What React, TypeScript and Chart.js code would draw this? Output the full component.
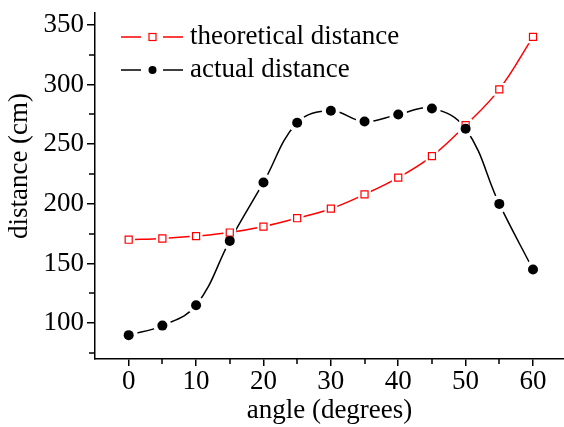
import React, { useEffect, useRef } from "react";
import { Chart, registerables } from "chart.js";

Chart.register(...registerables);

const angles = [0, 5, 10, 15, 20, 25, 30, 35, 40, 45, 50, 55, 60];
const theoretical = [170, 171, 173, 176, 181, 188, 196, 208, 222, 240, 266, 296, 340];
const actual = [90, 98, 115, 169, 218, 268, 278, 269, 275, 280, 263, 200, 145];
const xMajorTicks = [0, 10, 20, 30, 40, 50, 60];
const xMinorTicks = [5, 15, 25, 35, 45, 55];
const yMajorTicks = [100, 150, 200, 250, 300, 350];
const yMinorTicks = [75, 125, 175, 225, 275, 325];
const seriesNames = ["theoretical distance", "actual distance"];
const xTitle = "angle (degrees)";
const yTitle = "distance (cm)";

const RED = "#ff0000";
const BLACK = "#000000";
const FONT = "'Liberation Serif', 'Times New Roman', serif";

const pts = (ys: number[]) => angles.map((a, i) => ({ x: a, y: ys[i] }));

const minorTickPlugin = {
  id: "minorTicks",
  afterDraw(chart: any) {
    const { ctx, scales } = chart;
    const x = scales.x;
    const y = scales.y;
    ctx.save();
    ctx.strokeStyle = BLACK;
    ctx.lineWidth = 1.5;
    ctx.beginPath();
    for (const v of xMinorTicks) {
      const px = Math.round(x.getPixelForValue(v));
      ctx.moveTo(px, x.top);
      ctx.lineTo(px, x.top + 5);
    }
    for (const v of yMinorTicks) {
      const py = Math.round(y.getPixelForValue(v));
      ctx.moveTo(y.right, py);
      ctx.lineTo(y.right - 6, py);
    }
    ctx.stroke();
    ctx.restore();
  },
};

const yTitlePlugin = {
  id: "yTitle",
  afterDraw(chart: any) {
    const { ctx } = chart;
    ctx.save();
    ctx.translate(20, 166);
    ctx.rotate(-Math.PI / 2);
    ctx.fillStyle = BLACK;
    ctx.font = `27px ${FONT}`;
    ctx.textAlign = "center";
    ctx.textBaseline = "middle";
    ctx.fillText(yTitle, 0, 0);
    ctx.restore();
  },
};

const legendPlugin = {
  id: "customLegend",
  afterDraw(chart: any) {
    const { ctx } = chart;
    const rows = [
      { name: seriesNames[0], color: RED, style: "rect", y: 37 },
      { name: seriesNames[1], color: BLACK, style: "circle", y: 70 },
    ];
    ctx.save();
    for (const r of rows) {
      ctx.strokeStyle = r.color;
      ctx.lineWidth = 1.5;
      ctx.beginPath();
      ctx.moveTo(121, r.y);
      ctx.lineTo(141, r.y);
      ctx.moveTo(163, r.y);
      ctx.lineTo(183, r.y);
      ctx.stroke();
      if (r.style === "rect") {
        ctx.fillStyle = "#fff";
        ctx.lineWidth = 1.2;
        ctx.fillRect(149, r.y - 3.5, 7, 7);
        ctx.strokeRect(149, r.y - 3.5, 7, 7);
      } else {
        ctx.fillStyle = BLACK;
        ctx.beginPath();
        ctx.arc(152.5, r.y, 4, 0, Math.PI * 2);
        ctx.fill();
      }
      ctx.fillStyle = BLACK;
      ctx.font = `27px ${FONT}`;
      ctx.textBaseline = "middle";
      ctx.textAlign = "left";
      ctx.fillText(r.name, 190, r.y);
    }
    ctx.restore();
  },
};

export default function App() {
  const ref = useRef<HTMLCanvasElement | null>(null);

  useEffect(() => {
    if (!ref.current) return;
    const chart = new Chart(ref.current, {
      type: "line",
      data: {
        datasets: [
          { label: "theoLine", data: pts(theoretical), borderColor: RED, borderWidth: 1.5, pointRadius: 0, tension: 0.4, order: 6 },
          { label: "actLine", data: pts(actual), borderColor: BLACK, borderWidth: 1.5, pointRadius: 0, tension: 0.4, order: 5 },
          { label: "theoHalo", data: pts(theoretical), showLine: false, pointStyle: "rect", pointRadius: 9, pointBackgroundColor: "#fff", pointBorderWidth: 0, pointBorderColor: "#fff", order: 4 },
          { label: "actHalo", data: pts(actual), showLine: false, pointStyle: "circle", pointRadius: 9, pointBackgroundColor: "#fff", pointBorderWidth: 0, pointBorderColor: "#fff", order: 3 },
          { label: seriesNames[0], data: pts(theoretical), showLine: false, pointStyle: "rect", pointRadius: 5, pointBackgroundColor: "#fff", pointBorderColor: RED, pointBorderWidth: 1.2, order: 2 },
          { label: seriesNames[1], data: pts(actual), showLine: false, pointStyle: "circle", pointRadius: 5, pointBackgroundColor: BLACK, pointBorderColor: BLACK, pointBorderWidth: 0, order: 1 },
        ],
      },
      options: {
        animation: false,
        responsive: false,
        maintainAspectRatio: false,
        layout: { autoPadding: false, padding: { top: 13, right: 0, bottom: 0, left: 0 } },
        plugins: { legend: { display: false }, tooltip: { enabled: false } },
        scales: {
          x: {
            type: "linear",
            min: -5,
            max: 64.6,
            afterBuildTicks: (s: any) => {
              s.ticks = xMajorTicks.map((v) => ({ value: v }));
            },
            afterFit: (s: any) => {
              s.height = 68;
              s.paddingLeft = 0;
              s.paddingRight = 0;
            },
            border: { display: true, color: BLACK, width: 1.5 },
            grid: { display: true, drawOnChartArea: false, drawTicks: true, tickLength: 7, color: BLACK, lineWidth: 1.5 },
            ticks: { color: BLACK, font: { family: FONT, size: 27 }, padding: 0, maxRotation: 0, autoSkip: false },
            title: { display: true, text: xTitle, color: BLACK, font: { family: FONT, size: 27, lineHeight: 1.2 }, padding: { top: 0, bottom: 0 } },
          },
          y: {
            type: "linear",
            min: 70,
            max: 360,
            afterBuildTicks: (s: any) => {
              s.ticks = yMajorTicks.map((v) => ({ value: v }));
            },
            afterFit: (s: any) => {
              s.width = 95;
              s.paddingTop = 0;
              s.paddingBottom = 0;
            },
            border: { display: true, color: BLACK, width: 1.5 },
            grid: { display: true, drawOnChartArea: false, drawTicks: true, tickLength: 8, color: BLACK, lineWidth: 1.5 },
            ticks: { color: BLACK, font: { family: FONT, size: 27 }, padding: 3, autoSkip: false },
            title: { display: false },
          },
        },
      },
      plugins: [minorTickPlugin, yTitlePlugin, legendPlugin],
    });
    return () => chart.destroy();
  }, []);

  return (
    <div style={{ position: "fixed", left: 0, top: 0, width: 564, height: 427, background: "#fff" }}>
      <canvas ref={ref} width={564} height={427} style={{ width: 564, height: 427 }} />
    </div>
  );
}
